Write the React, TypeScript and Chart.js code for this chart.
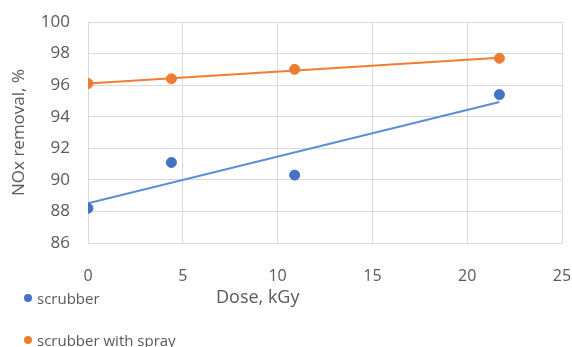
import React, { useEffect, useRef } from "react";
import { Chart, registerables } from "chart.js";

Chart.register(...registerables);

const doses = [0, 4.4, 10.9, 21.7];
const scrubber = [88.2, 91.1, 90.3, 95.4];
const scrubberSpray = [96.1, 96.4, 97.0, 97.7];
const seriesNames = ["scrubber", "scrubber with spray"];
const xAxisTitle = "Dose, kGy";
const yAxisTitle = "NOx removal, %";

const BLUE = "#4472C4";
const BLUE_LINE = "#5B8ED6";
const ORANGE = "#ED7D31";
const GRID = "#d9d9d9";
const TEXT = "#595959";
const FONT = "'Open Sans', sans-serif";

function fit(xs: number[], ys: number[]) {
  const n = xs.length;
  const mx = xs.reduce((a, b) => a + b, 0) / n;
  const my = ys.reduce((a, b) => a + b, 0) / n;
  let sxy = 0, sxx = 0;
  for (let i = 0; i < n; i++) {
    sxy += (xs[i] - mx) * (ys[i] - my);
    sxx += (xs[i] - mx) * (xs[i] - mx);
  }
  const slope = sxy / sxx;
  const icpt = my - slope * mx;
  const x0 = Math.min(...xs);
  const x1 = Math.max(...xs);
  return [
    { x: x0, y: icpt + slope * x0 },
    { x: x1, y: icpt + slope * x1 },
  ];
}

export default function App() {
  const ref = useRef<HTMLCanvasElement | null>(null);
  useEffect(() => {
    if (!ref.current) return;
    const pts = (ys: number[]) => doses.map((x, i) => ({ x, y: ys[i] }));
    const chart = new Chart(ref.current, {
      type: "scatter",
      data: {
        datasets: [
          {
            label: seriesNames[0],
            data: pts(scrubber),
            backgroundColor: BLUE,
            borderColor: BLUE,
            pointRadius: 5,
            order: 0,
          },
          {
            label: seriesNames[1],
            data: pts(scrubberSpray),
            backgroundColor: ORANGE,
            borderColor: ORANGE,
            pointRadius: 5,
            order: 0,
          },
          {
            type: "line",
            label: "trend scrubber",
            data: fit(doses, scrubber),
            borderColor: BLUE_LINE,
            borderWidth: 2,
            pointRadius: 0,
            order: 1,
          } as any,
          {
            type: "line",
            label: "trend spray",
            data: fit(doses, scrubberSpray),
            borderColor: ORANGE,
            borderWidth: 2,
            pointRadius: 0,
            order: 1,
          } as any,
        ],
      },
      options: {
        animation: false,
        responsive: true,
        maintainAspectRatio: false,
        layout: { padding: { top: 22, right: 10, left: 0, bottom: 0 } },
        plugins: { legend: { display: false }, tooltip: { enabled: false } },
        scales: {
          x: {
            type: "linear",
            min: 0,
            max: 25,
            ticks: { stepSize: 5, color: TEXT, font: { family: FONT, size: 16 }, padding: 0 },
            grid: { color: GRID, drawTicks: true, tickLength: 24, tickColor: "rgba(0,0,0,0)" },
            border: { color: GRID },
            afterFit: (s: any) => { s.height = 104; },
          },
          y: {
            min: 86,
            max: 100,
            ticks: { stepSize: 2, color: TEXT, font: { family: FONT, size: 17 }, padding: 0 },
            grid: { color: GRID, drawTicks: true, tickLength: 18, tickColor: "rgba(0,0,0,0)" },
            border: { color: GRID },
            title: {
              display: true,
              text: yAxisTitle,
              color: TEXT,
              font: { family: FONT, size: 17 },
              padding: { top: 9, bottom: 0 },
            },
            afterFit: (s: any) => { s.width = 88; },
          },
        },
      },
    });
    return () => chart.destroy();
  }, []);

  const legendRow = (color: string, text: string, top: number) => (
    <div style={{ position: "absolute", left: 24, top, display: "flex", alignItems: "center", height: 20 }}>
      <span style={{ width: 8, height: 8, borderRadius: 4, background: color, display: "inline-block", marginRight: 5 }} />
      <span style={{ fontFamily: FONT, fontSize: 15, color: TEXT, whiteSpace: "nowrap" }}>{text}</span>
    </div>
  );

  return (
    <div style={{ position: "fixed", left: 0, top: 0, width: 572, height: 347, background: "#fff" }}>
      <canvas ref={ref} />
      {legendRow(BLUE, seriesNames[0], 288)}
      {legendRow(ORANGE, seriesNames[1], 330)}
      <div style={{ position: "absolute", left: 216, top: 284, fontFamily: FONT, fontSize: 18, color: TEXT, whiteSpace: "nowrap", lineHeight: "24px" }}>
        {xAxisTitle}
      </div>
    </div>
  );
}
